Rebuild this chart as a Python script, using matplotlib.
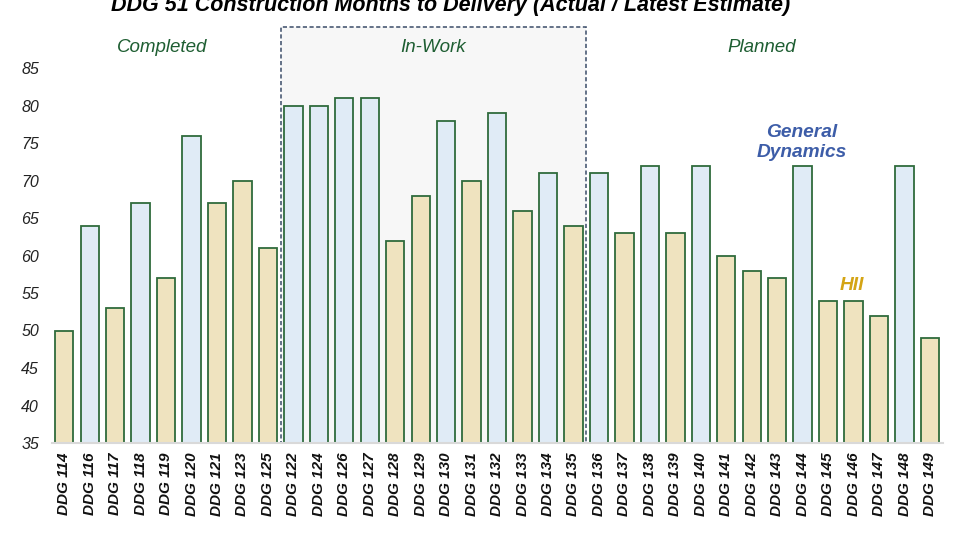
import matplotlib
matplotlib.use("Agg")
import matplotlib.pyplot as plt
from matplotlib.patches import Rectangle
import matplotlib.transforms as mtransforms

plt.rcParams['font.family'] = ['Liberation Sans', 'DejaVu Sans']

ships = ["DDG 114", "DDG 116", "DDG 117", "DDG 118", "DDG 119", "DDG 120", "DDG 121",
         "DDG 123", "DDG 125", "DDG 122", "DDG 124", "DDG 126", "DDG 127", "DDG 128",
         "DDG 129", "DDG 130", "DDG 131", "DDG 132", "DDG 133", "DDG 134", "DDG 135",
         "DDG 136", "DDG 137", "DDG 138", "DDG 139", "DDG 140", "DDG 141", "DDG 142",
         "DDG 143", "DDG 144", "DDG 145", "DDG 146", "DDG 147", "DDG 148", "DDG 149"]
months = [50, 64, 53, 67, 57, 76, 67, 70, 61, 80, 80, 81, 81, 62, 68, 78, 70, 79, 66,
          71, 64, 71, 63, 72, 63, 72, 60, 58, 57, 72, 54, 54, 52, 72, 49]
builder = ["HII", "GD", "HII", "GD", "HII", "GD", "HII", "HII", "HII", "GD", "GD", "GD",
           "GD", "HII", "HII", "GD", "HII", "GD", "HII", "GD", "HII", "GD", "HII", "GD",
           "HII", "GD", "HII", "HII", "HII", "GD", "HII", "HII", "HII", "GD", "HII"]
yticks = [35, 40, 45, 50, 55, 60, 65, 70, 75, 80, 85]

fill = {"GD": "#E0EBF6", "HII": "#EFE3BF"}
edge = "#2F6B3C"
green_txt = "#1E5E32"

fig = plt.figure(figsize=(9.6, 5.4), dpi=100)
ax = fig.add_axes([51.5 / 960, 1 - 443 / 540, 891.2 / 960, 416 / 540])

x = list(range(len(ships)))
ax.bar(x, months, width=0.72, bottom=0, color=[fill[b] for b in builder],
       edgecolor=edge, linewidth=1.3, zorder=3)

ax.set_xlim(-0.5, len(ships) - 0.5)
ax.set_ylim(35, 35 + 416 / 7.5)

# In-Work shaded box
trans = mtransforms.blended_transform_factory(ax.transData, ax.transAxes)
ax.add_patch(Rectangle((8.5, 0), 12, 1, transform=trans, facecolor="#F7F7F7",
                       edgecolor="#4A5A74", linestyle=(0, (2.5, 1.5)), linewidth=1.2,
                       zorder=1, clip_on=False))

for s in ["top", "right", "left"]:
    ax.spines[s].set_visible(False)
ax.spines["bottom"].set_color("#D9D9D9")
ax.spines["bottom"].set_linewidth(1.5)
ax.spines["bottom"].set_zorder(4)

ax.set_yticks(yticks)
ax.set_yticklabels([str(v) for v in yticks], fontsize=11.5, fontstyle="italic", color="#222222")
ax.tick_params(axis="y", length=0, pad=9)
ax.set_xticks(x)
ax.set_xticklabels(ships, rotation=90, fontsize=11, fontweight="bold", fontstyle="italic",
                   color="#111111")
ax.tick_params(axis="x", length=0, pad=7)

# Section labels
for xp, lab in [(161.7, "Completed"), (433, "In-Work"), (761.7, "Planned")]:
    fig.text(xp / 960, 1 - 47 / 540, lab, ha="center", va="center", fontsize=13.5,
             fontstyle="italic", color=green_txt)

fig.text(801.7 / 960, 1 - 142.5 / 540, "General\nDynamics", ha="center", va="center",
         fontsize=13.8, fontweight="bold", fontstyle="italic", color="#3D5DA8",
         linespacing=1.2)
fig.text(851.7 / 960, 1 - 285 / 540, "HII", ha="center", va="center", fontsize=13.8,
         fontweight="bold", fontstyle="italic", color="#D4A414")

fig.text(451 / 960, 1 - 11.5 / 540,
         "DDG 51 Construction Months to Delivery (Actual / Latest Estimate)",
         ha="center", va="baseline", fontsize=15.5, fontweight="bold", fontstyle="italic",
         color="#000000")

fig.savefig("out.png", dpi=100)
